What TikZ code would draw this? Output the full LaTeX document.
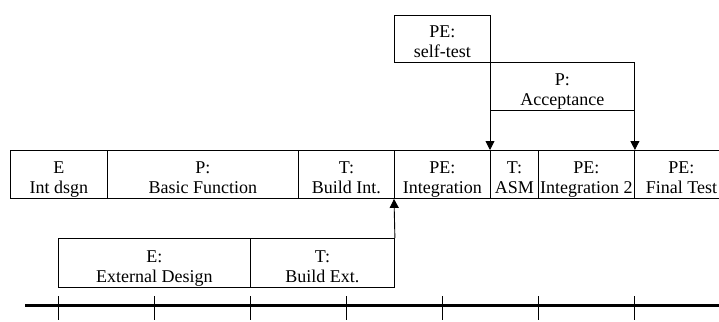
\documentclass[tikz,border=0pt]{standalone}
\usepackage{fontspec}
\setmainfont{Liberation Serif}
\usetikzlibrary{arrows.meta}

\tikzset{
  tbox/.style={draw, line width=0.9pt, inner sep=0pt, anchor=north west},
  tlbl/.style={anchor=south, inner sep=0pt, align=center,
               font=\fontsize{18}{20}\selectfont},
  link/.style={line width=0.9pt, -{Triangle[length=9pt,width=9pt]}},
  axisline/.style={line width=3.5pt},
  tick/.style={line width=0.8pt}
}

% #1 name, #2 x, #3 y (top), #4 width, #5 height, #6 text
\newcommand\taskbox[6]{%
  \node[tbox, minimum width=#4pt, minimum height=#5pt] (#1) at (#2,#3) {};
  \node[tlbl] (#1-t) at (#1.south) {#6\rule[-5.5pt]{0pt}{0pt}};
}

\begin{document}
\begin{tikzpicture}[x=1pt, y=-1pt]
  \useasboundingbox (0,0) rectangle (719,321);
  \clip (0,0) rectangle (719,321);

  % upper boxes
  \taskbox{self}{394}{15}{96}{47}{PE:\\self-test}
  \taskbox{acc}{490}{62}{144}{48}{P:\\Acceptance}

  % main schedule row
  \taskbox{intd}{10}{150}{97}{48}{E\\Int dsgn}
  \taskbox{basic}{107}{150}{191}{48}{P:\\Basic Function}
  \taskbox{bint}{298}{150}{96}{48}{T:\\Build Int.}
  \taskbox{integ}{394}{150}{96}{48}{PE:\\Integration}
  \taskbox{asm}{490}{150}{48}{48}{T:\\ASM}
  \taskbox{integb}{538}{150}{96}{48}{PE:\\Integration 2}
  \taskbox{final}{634}{150}{94}{48}{PE:\\Final Test}

  % lower row
  \taskbox{extd}{58}{238}{192}{49}{E:\\External Design}
  \taskbox{bext}{250}{238}{144}{49}{T:\\Build Ext.}

  % dependencies
  \draw[link] (acc.south west) -- (asm.north west);
  \draw[link] (acc.south east) -- (integb.north east);
  \draw[link] (bext.north east) -- (integ.south west);

  % time axis
  \coordinate (ax0) at (25,305.5);
  \coordinate (ax1) at (725,305.5);
  \draw[axisline] (ax0) -- (ax1);
  \foreach \x [count=\i] in {58,154,250,346,442,538,634} {
    \coordinate (tk\i a) at (\x,296);
    \coordinate (tk\i b) at (\x,320);
    \draw[tick] (tk\i a) -- (tk\i b);
  }
\end{tikzpicture}
\end{document}
